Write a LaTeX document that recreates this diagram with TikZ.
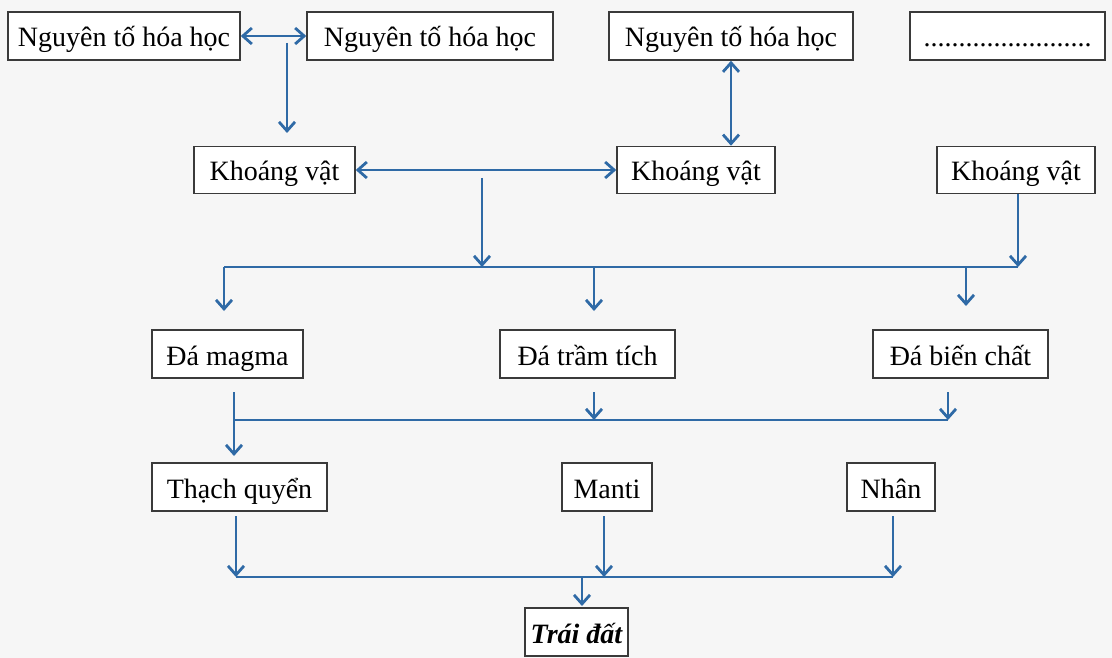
\documentclass[tikz,border=0pt]{standalone}
\usepackage{fontspec}
\setmainfont{Liberation Serif}
\usetikzlibrary{arrows.meta}
\definecolor{bg}{HTML}{F6F6F6}
\definecolor{ln}{HTML}{2F6AA6}
\definecolor{bx}{HTML}{3A3A3A}
\tikzset{
  box/.style={draw=bx, fill=white, line width=1.5pt, inner sep=0pt,
    font=\fontsize{28}{32}\selectfont, text=black, text height=28pt, text depth=6pt},
  tipv/.tip={Straight Barb[length=9pt,width=16pt,line width=2.8pt]},
  arr/.style={draw=ln, line width=1.7pt, -tipv},
  darr/.style={draw=ln, line width=1.7pt, tipv-tipv},
  ln/.style={draw=ln, line width=1.7pt}
}
\begin{document}
\begin{tikzpicture}[x=1pt,y=-1pt]
\fill[bg] (0,0) rectangle (1112,658);
\useasboundingbox (0,0) rectangle (1112,658);
% boxes
\node[box, minimum width=232pt, minimum height=48pt] (n1) at (124,36) {Nguyên tố hóa học};
\node[box, minimum width=246pt, minimum height=48pt] (n2) at (430,36) {Nguyên tố hóa học};
\node[box, minimum width=244pt, minimum height=48pt] (n3) at (731,36) {Nguyên tố hóa học};
\node[box, minimum width=195pt, minimum height=48pt] (n4) at (1007.5,36) {........................};
\node[box, minimum width=161pt, minimum height=47pt] (k1) at (274.5,170) {Khoáng vật};
\node[box, minimum width=158pt, minimum height=47pt] (k2) at (696,170) {Khoáng vật};
\node[box, minimum width=158pt, minimum height=47pt] (k3) at (1016,170) {Khoáng vật};
\node[box, minimum width=151pt, minimum height=48pt] (r1) at (227.5,354) {Đá magma};
\node[box, minimum width=175pt, minimum height=48pt] (r2) at (587.5,354) {Đá trầm tích};
\node[box, minimum width=175pt, minimum height=48pt] (r3) at (960.5,354) {Đá biến chất};
\node[box, minimum width=175pt, minimum height=48pt] (l1) at (239.5,487) {Thạch quyển};
\node[box, minimum width=90pt, minimum height=48pt] (l2) at (607,487) {Manti};
\node[box, minimum width=88pt, minimum height=48pt] (l3) at (891,487) {Nhân};
\node[box, minimum width=103pt, minimum height=48pt, font=\fontsize{28}{32}\selectfont\bfseries\itshape] (e) at (576.5,632) {Trái đất};
% coordinates
\coordinate (a1) at (287,43);
\coordinate (a1e) at (287,133);
\coordinate (a2) at (482,178);
\coordinate (b1L) at (224,267);
\coordinate (b1R) at (1018,267);
\coordinate (b1M) at (482,267);
\coordinate (d1) at (224,311);
\coordinate (d2s) at (594,267);
\coordinate (d2) at (594,311);
\coordinate (d3s) at (966,267);
\coordinate (d3) at (966,306);
\coordinate (c1s) at (234,392);
\coordinate (c1) at (234,420);
\coordinate (c1e) at (234,456);
\coordinate (c2s) at (594,392);
\coordinate (c2) at (594,420);
\coordinate (c3s) at (948,392);
\coordinate (c3) at (948,420);
\coordinate (e1s) at (236,516);
\coordinate (e1) at (236,577);
\coordinate (e2s) at (604,516);
\coordinate (e2) at (604,577);
\coordinate (e3s) at (893,516);
\coordinate (e3) at (893,577);
\coordinate (eM) at (582,577);
\coordinate (eMe) at (582,606);
% connectors
\draw[darr] (n1) -- (n2);
\draw[arr] (a1) -- (a1e);
\draw[darr] (k1) -- (k2);
\draw[darr] (n3.south) -- (n3.south |- k2.north);
\draw[arr] (a2) -- (b1M);
\draw[arr] (k3.south -| b1R) -- (b1R);
\draw[ln] (b1L) -- (b1R);
\draw[arr] (b1L) -- (d1);
\draw[arr] (d2s) -- (d2);
\draw[arr] (d3s) -- (d3);
\draw[arr] (c1s) -- (c1e);
\draw[ln] (c1) -- (c3);
\draw[arr] (c2s) -- (c2);
\draw[arr] (c3s) -- (c3);
\draw[arr] (e1s) -- (e1);
\draw[arr] (e2s) -- (e2);
\draw[arr] (e3s) -- (e3);
\draw[ln] (e1) -- (e3);
\draw[arr] (eM) -- (eMe);
\end{tikzpicture}
\end{document}
